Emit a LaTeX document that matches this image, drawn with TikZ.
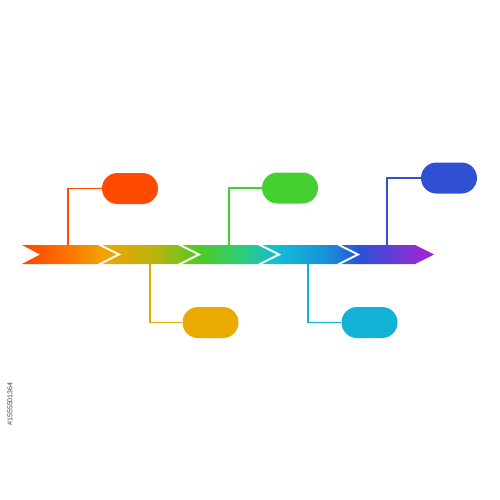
\documentclass[tikz,border=0pt]{standalone}
\usepackage{fontspec}
\setsansfont{Liberation Sans}
\definecolor{c0}{HTML}{FF4500}
\definecolor{c1}{HTML}{FF6A00}
\definecolor{c2}{HTML}{F2A400}
\definecolor{c3}{HTML}{B4B410}
\definecolor{c4}{HTML}{4ECC24}
\definecolor{c5}{HTML}{30CC78}
\definecolor{c6}{HTML}{14BCD6}
\definecolor{c7}{HTML}{1890D8}
\definecolor{c8}{HTML}{2A52D8}
\definecolor{c9}{HTML}{B020D0}
\pgfdeclarehorizontalshading{rainbow}{100bp}{
  color(0bp)=(c0); color(25bp)=(c0); color(29.5bp)=(c1); color(35bp)=(c2); color(41.5bp)=(c3);
  color(46.5bp)=(c4); color(51.5bp)=(c5); color(56bp)=(c6); color(62bp)=(c7);
  color(66bp)=(c8); color(75bp)=(c9); color(100bp)=(c9)}
\definecolor{bred}{HTML}{FF4A00}
\definecolor{bgreen}{HTML}{44D030}
\definecolor{bblue}{HTML}{3050D4}
\definecolor{byellow}{HTML}{EBAA00}
\definecolor{bcyan}{HTML}{12B2D6}
\begin{document}
\begin{tikzpicture}[x=1pt,y=-1pt,
  pill/.style={rounded corners=15.5pt,minimum width=56pt,minimum height=31pt,inner sep=0pt,draw=none},
  link/.style={line width=1.5pt},
  chev/.style={draw=white,line width=2pt}]
\useasboundingbox (0,0) rectangle (499,500);
% arrow band
\shade[shading=rainbow] (22,245) -- (415,245) -- (434,254.5) -- (415,264) -- (22,264) -- (40,254.5) -- cycle;
\foreach \x in {98,178,258,337}{
  \draw[chev] (\x,244) -- (\x+21,254.5) -- (\x,265);
}
% boxes
\node[pill,fill=bred]    (b1) at (130,188.5) {};
\node[pill,fill=bgreen]  (b2) at (290,188) {};
\node[pill,fill=bblue]   (b3) at (449,178) {};
\node[pill,fill=byellow] (b4) at (210.5,322.5) {};
\node[pill,fill=bcyan]   (b5) at (369.5,322.5) {};
% anchors on band
\coordinate (a1) at (68,245);
\coordinate (a2) at (229,245);
\coordinate (a3) at (387,245);
\coordinate (a4) at (150,264);
\coordinate (a5) at (308,264);
\draw[link,draw=bred]    (a1) |- (b1.west);
\draw[link,draw=bgreen]  (a2) |- (b2.west);
\draw[link,draw=bblue]   (a3) |- (b3.west);
\draw[link,draw=byellow] (a4) |- (b4.west);
\draw[link,draw=bcyan]   (a5) |- (b5.west);
% stock id
\node[rotate=90,font=\sffamily\fontsize{7}{8}\selectfont,text=black!75,inner sep=0pt] (id) at (10,404) {\#1555501364};
\end{tikzpicture}
\end{document}
